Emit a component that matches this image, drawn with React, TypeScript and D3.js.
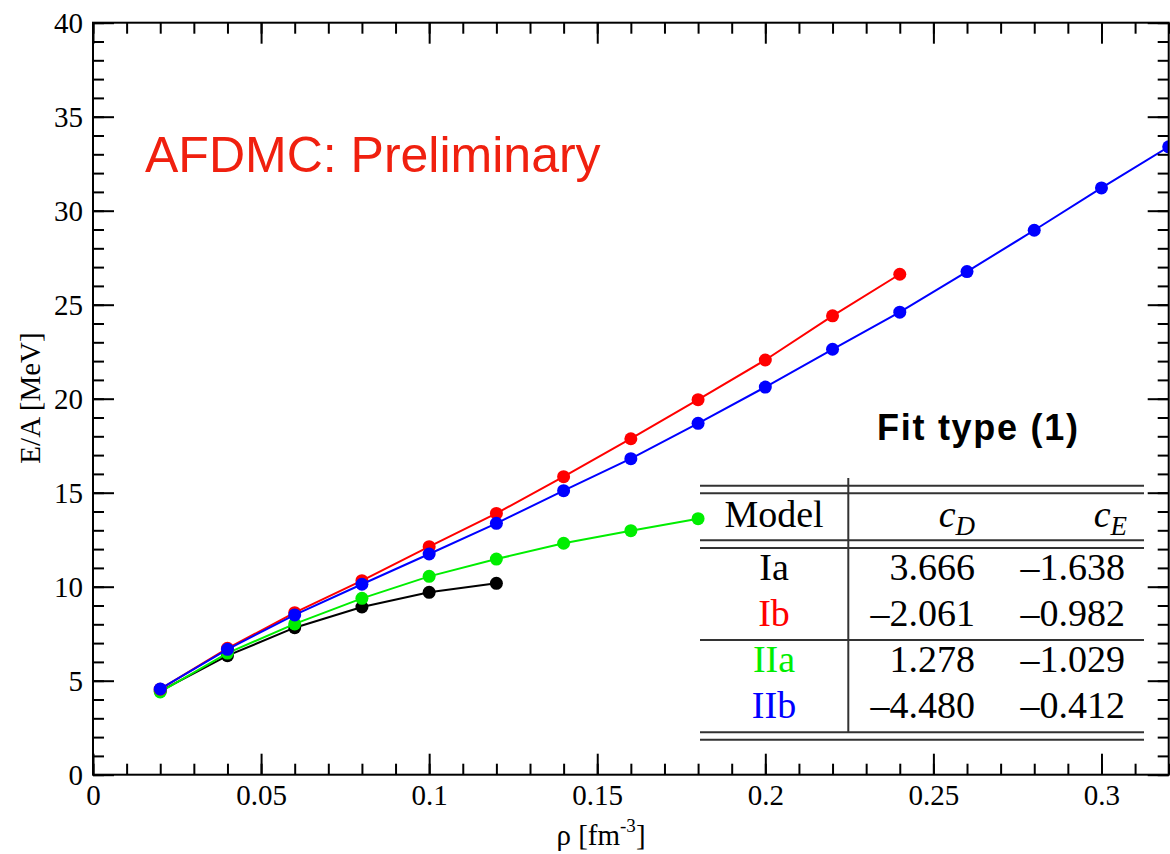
import { useEffect, useRef } from "react";
import * as d3 from "d3";

// densities (fm^-3) and E/A (MeV)
const rho = [0.02, 0.04, 0.06, 0.08, 0.1, 0.12, 0.14, 0.16, 0.18, 0.2, 0.22, 0.24, 0.26, 0.28, 0.3, 0.32];
const ia = [4.45, 6.33, 7.82, 8.92, 9.7, 10.18];
const iia = [4.4, 6.47, 8.02, 9.38, 10.55, 11.47, 12.31, 12.98, 13.62];
const ib = [4.55, 6.72, 8.62, 10.32, 12.13, 13.9, 15.85, 17.87, 19.95, 22.06, 24.41, 26.62];
const iib = [4.56, 6.67, 8.5, 10.13, 11.74, 13.37, 15.11, 16.81, 18.69, 20.62, 22.63, 24.6, 26.76, 28.96, 31.21, 33.4];

const xMajor = [0, 0.05, 0.1, 0.15, 0.2, 0.25, 0.3];
const yMajor = [0, 5, 10, 15, 20, 25, 30, 35, 40];

// fit table
const models = ["Ia", "Ib", "IIa", "IIb"];
const modelColors = ["#000000", "#ff0000", "#00ee00", "#0000ff"];
const cD = ["3.666", "\u20132.061", "1.278", "\u20134.480"];
const cE = ["\u20131.638", "\u20130.982", "\u20131.029", "\u20130.412"];

const W = 1170, H = 854;
const left = 93, right = 1168.7, top = 22.7, bottom = 774.7;

const App = () => {
    const ref = useRef<SVGSVGElement>(null);

    useEffect(() => {
        const svg = d3.select(ref.current);
        svg.selectAll("*").remove();

        const x = d3.scaleLinear().domain([0, 0.32]).range([left, right]);
        const y = d3.scaleLinear().domain([0, 40]).range([bottom, top]);

        const serif = "'Liberation Serif', 'Times New Roman', serif";
        const sans = "'Liberation Sans', Arial, Helvetica, sans-serif";

        svg.append("defs").append("clipPath").attr("id", "plotclip")
            .append("rect")
            .attr("x", left).attr("y", top)
            .attr("width", right - left).attr("height", bottom - top);

        // series, drawn black, green, red, blue
        const series = [
            { v: ia, c: "#000000" },
            { v: iia, c: "#00ee00" },
            { v: ib, c: "#ff0000" },
            { v: iib, c: "#0000ff" },
        ];
        const plot = svg.append("g").attr("clip-path", "url(#plotclip)");
        const line = d3.line<number>()
            .x((_, i) => x(rho[i]))
            .y(d => y(d));
        series.forEach(s => {
            plot.append("path")
                .attr("d", line(s.v))
                .attr("fill", "none")
                .attr("stroke", s.c)
                .attr("stroke-width", 2);
            plot.selectAll(null)
                .data(s.v)
                .enter()
                .append("circle")
                .attr("cx", (_, i) => x(rho[i]))
                .attr("cy", d => y(d))
                .attr("r", 6.5)
                .attr("fill", s.c);
        });

        // axes with inward ticks on all four sides
        const xMinor = d3.range(0, 33).map(i => i / 100);
        const yMinor = d3.range(0, 41);

        const drawAxis = (axis: any, transform: string) => {
            const g = svg.append("g").attr("transform", transform).call(axis);
            g.select(".domain").remove();
            g.selectAll("line").attr("stroke", "#000").attr("stroke-width", 2);
            g.style("font-family", serif).style("font-size", "29px");
            return g;
        };

        drawAxis(d3.axisBottom(x).tickValues(xMinor).tickSize(-11).tickFormat(() => ""), `translate(0,${bottom})`);
        drawAxis(d3.axisTop(x).tickValues(xMinor).tickSize(-11).tickFormat(() => ""), `translate(0,${top})`);
        drawAxis(d3.axisLeft(y).tickValues(yMinor).tickSize(-11).tickFormat(() => ""), `translate(${left},0)`);
        drawAxis(d3.axisRight(y).tickValues(yMinor).tickSize(-11).tickFormat(() => ""), `translate(${right},0)`);

        const xb = drawAxis(d3.axisBottom(x).tickValues(xMajor).tickSize(-21).tickFormat(d => String(d)), `translate(0,${bottom})`);
        xb.selectAll("text")
            .style("font-family", serif).style("font-size", "29px")
            .attr("fill", "#000").attr("y", 30).attr("dy", 0);
        drawAxis(d3.axisTop(x).tickValues(xMajor).tickSize(-21).tickFormat(() => ""), `translate(0,${top})`);
        const yl = drawAxis(d3.axisLeft(y).tickValues(yMajor).tickSize(-21).tickFormat(d => String(d)), `translate(${left},0)`);
        yl.selectAll("text")
            .style("font-family", serif).style("font-size", "29px")
            .attr("fill", "#000").attr("x", -10).attr("dy", "0.33em");
        drawAxis(d3.axisRight(y).tickValues(yMajor).tickSize(-21).tickFormat(() => ""), `translate(${right},0)`);

        svg.append("rect")
            .attr("x", left).attr("y", top)
            .attr("width", right - left).attr("height", bottom - top)
            .attr("fill", "none").attr("stroke", "#000").attr("stroke-width", 2);

        // axis titles
        const xt = svg.append("text")
            .attr("x", 601).attr("y", 845)
            .attr("text-anchor", "middle")
            .style("font-family", serif).style("font-size", "29px");
        xt.append("tspan").text("\u03c1 [fm");
        xt.append("tspan").attr("dy", -13).style("font-size", "19px").text("-3");
        xt.append("tspan").attr("dy", 13).text("]");

        svg.append("text")
            .attr("transform", `translate(40,398) rotate(-90)`)
            .attr("text-anchor", "middle")
            .style("font-family", serif).style("font-size", "29px")
            .text("E/A [MeV]");

        svg.append("text")
            .attr("x", 145).attr("y", 172)
            .style("font-family", sans).style("font-size", "50px")
            .attr("fill", "#f0200f")
            .text("AFDMC: Preliminary");

        svg.append("text")
            .attr("x", 877).attr("y", 440)
            .style("font-family", sans).style("font-size", "36px").style("font-weight", "bold")
            .attr("textLength", 201).attr("lengthAdjust", "spacing")
            .text("Fit type (1)");

        // table
        const tbl = svg.append("g");
        const tl = 700, tr = 1144;
        const hline = (yy: number) => tbl.append("line")
            .attr("x1", tl).attr("x2", tr).attr("y1", yy).attr("y2", yy)
            .attr("stroke", "#333").attr("stroke-width", 2);
        [485.7, 493.3, 540.3, 548, 640, 732.3, 739.7].forEach(hline);
        tbl.append("line")
            .attr("x1", 848.3).attr("x2", 848.3).attr("y1", 478).attr("y2", 732.3)
            .attr("stroke", "#333").attr("stroke-width", 2);

        const tfont = "38px";
        tbl.append("text").attr("x", 774).attr("y", 527).attr("text-anchor", "middle")
            .style("font-family", serif).style("font-size", tfont).text("Model");
        const hdr = (xr: number, sub: string) => {
            const t = tbl.append("text").attr("x", xr).attr("y", 527).attr("text-anchor", "end")
                .style("font-family", serif).style("font-size", tfont);
            t.append("tspan").style("font-style", "italic").text("c");
            t.append("tspan").style("font-style", "italic").style("font-size", "27px").attr("dy", 8).text(sub);
        };
        hdr(975, "D");
        hdr(1127, "E");

        const rowY = [580, 625.7, 672, 717.7];
        models.forEach((m, i) => {
            tbl.append("text").attr("x", 774).attr("y", rowY[i]).attr("text-anchor", "middle")
                .style("font-family", serif).style("font-size", tfont).attr("fill", modelColors[i]).text(m);
            tbl.append("text").attr("x", 975).attr("y", rowY[i]).attr("text-anchor", "end")
                .style("font-family", serif).style("font-size", tfont).text(cD[i]);
            tbl.append("text").attr("x", 1125).attr("y", rowY[i]).attr("text-anchor", "end")
                .style("font-family", serif).style("font-size", tfont).text(cE[i]);
        });
    }, []);

    return (
        <svg ref={ref} width={W} height={H}
             style={{ position: "absolute", left: 0, top: 0, background: "#fff" }} />
    );
};

export default App;
